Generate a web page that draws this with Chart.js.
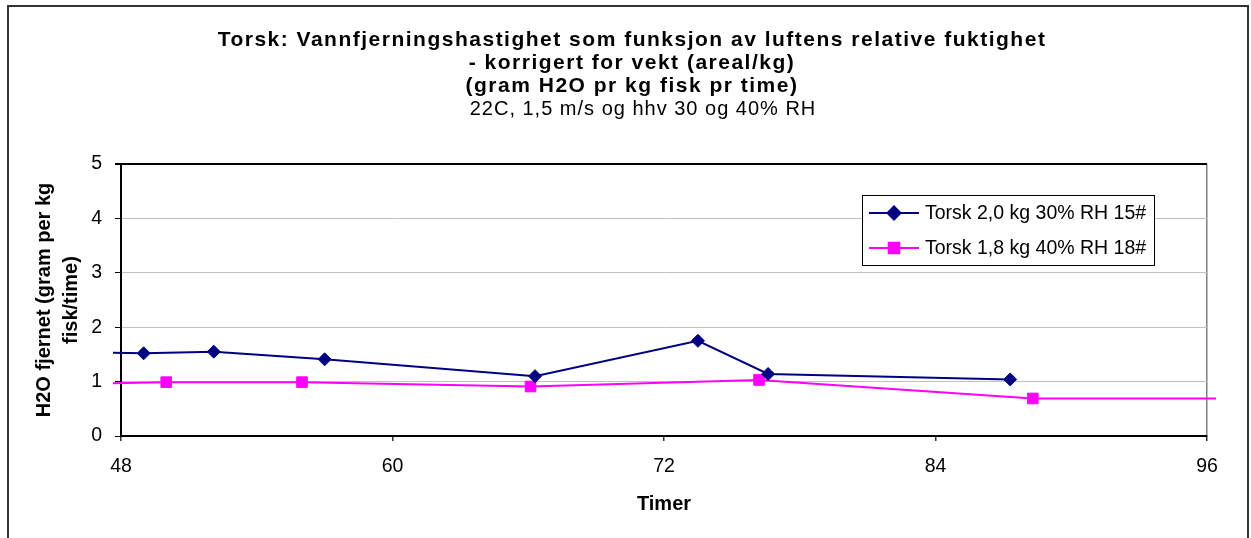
<!DOCTYPE html>
<html>
<head>
<meta charset="utf-8">
<script src="https://cdn.jsdelivr.net/npm/chart.js@4.4.0/dist/chart.umd.min.js"></script>
<style>
  html, body { margin: 0; padding: 0; background: #fff; }
  #wrap { width: 1251px; height: 538px; position: relative; }
</style>
</head>
<body>
<div id="wrap"><canvas id="lineGraph"></canvas></div>
<script>
// chart texts
const titleLines = [
  "Torsk: Vannfjerningshastighet som funksjon av luftens relative fuktighet",
  "- korrigert for vekt (areal/kg)",
  "(gram H2O pr kg fisk pr time)"
];
const subTitle = "22C, 1,5 m/s og hhv 30 og 40% RH";
const xTitle = "Timer";
const yTitle = ["H2O fjernet (gram per kg", "fisk/time)"];

// axis ticks
const xTicks = [48, 60, 72, 84, 96];
const yTicks = [0, 1, 2, 3, 4, 5];

// series (hours, gram H2O per kg per hour)
const torsk15Label = "Torsk 2,0 kg 30% RH 15#";
const torsk15Hours = [45, 49, 52.1, 57, 66.3, 73.5, 76.6, 87.3];
const torsk15Values = [1.55, 1.52, 1.55, 1.41, 1.10, 1.75, 1.14, 1.04];

const torsk18Label = "Torsk 1,8 kg 40% RH 18#";
const torsk18Hours = [45, 50, 56, 66.1, 76.2, 88.3, 100];
const torsk18Values = [0.95, 0.99, 0.99, 0.91, 1.03, 0.69, 0.69];

const fontFamily = "'Liberation Sans', Arial, sans-serif";
Chart.defaults.font.family = fontFamily;
Chart.defaults.color = "#000";

function toPoints(xs, ys) {
  return xs.map((x, i) => ({ x: x, y: ys[i] }));
}

// titles drawn with a bit of letter spacing like the original
const chartTitles = {
  id: "chartTitles",
  afterDraw(chart) {
    const ctx = chart.ctx;
    ctx.save();
    ctx.fillStyle = "#000";
    ctx.textAlign = "center";
    ctx.textBaseline = "middle";
    ctx.font = "bold 21px " + fontFamily;
    ctx.letterSpacing = "1.5px";
    titleLines.forEach((line, i) => ctx.fillText(line, 632, 40 + i * 23));
    ctx.font = "20px " + fontFamily;
    ctx.letterSpacing = "1px";
    ctx.fillText(subTitle, 643, 109);
    ctx.restore();
  }
};

// outer frame + boxed legend inside the plot
const frameAndLegend = {
  id: "frameAndLegend",
  afterDraw(chart) {
    const ctx = chart.ctx;
    ctx.save();
    ctx.strokeStyle = "#333";
    ctx.lineWidth = 2;
    ctx.strokeRect(8, 6, 1240, 600);

    // legend box
    const bx = 862, by = 195, bw = 292, bh = 70;
    ctx.fillStyle = "#fff";
    ctx.fillRect(bx, by, bw, bh);
    ctx.strokeStyle = "#000";
    ctx.lineWidth = 1;
    ctx.strokeRect(bx + 0.5, by + 0.5, bw, bh);

    ctx.font = "19.5px " + fontFamily;
    ctx.textAlign = "left";
    ctx.textBaseline = "middle";
    chart.data.datasets.forEach((ds, i) => {
      const y = 213 + i * 35;
      ctx.strokeStyle = ds.borderColor;
      ctx.lineWidth = 2;
      ctx.beginPath();
      ctx.moveTo(869, y);
      ctx.lineTo(919, y);
      ctx.stroke();
      ctx.fillStyle = ds.backgroundColor;
      Chart.helpers.drawPoint(ctx, {
        pointStyle: ds.pointStyle,
        radius: ds.pointRadius,
        borderWidth: 1,
        rotation: 0
      }, 894, y);
      ctx.fillStyle = "#000";
      ctx.fillText(ds.label, 925, y + 1);
    });
    ctx.restore();
  }
};

const ctx = document.getElementById("lineGraph").getContext("2d");
new Chart(ctx, {
  type: "line",
  data: {
    datasets: [
      {
        label: torsk15Label,
        data: toPoints(torsk15Hours, torsk15Values),
        borderColor: "#000080",
        backgroundColor: "#000080",
        borderWidth: 2,
        pointStyle: "rectRot",
        pointRadius: 6.5,
        pointBorderWidth: 1,
        tension: 0,
        clip: { left: 8, right: 9, top: 0, bottom: 0 }
      },
      {
        label: torsk18Label,
        data: toPoints(torsk18Hours, torsk18Values),
        borderColor: "#FF00FF",
        backgroundColor: "#FF00FF",
        borderWidth: 2,
        pointStyle: "rect",
        pointRadius: 7.5,
        pointBorderWidth: 1,
        tension: 0,
        clip: { left: 8, right: 9, top: 0, bottom: 0 }
      }
    ]
  },
  options: {
    responsive: true,
    maintainAspectRatio: false,
    animation: false,
    layout: { padding: { top: 164, right: 44, bottom: 0, left: 0 } },
    plugins: {
      legend: { display: false },
      title: { display: false },
      tooltip: { enabled: false }
    },
    scales: {
      x: {
        type: "linear",
        min: xTicks[0],
        max: xTicks[xTicks.length - 1],
        afterBuildTicks: (s) => { s.ticks = xTicks.map((v) => ({ value: v })); },
        afterFit: (s) => { s.height = 102; },
        ticks: { font: { size: 19.5 }, padding: 14, maxRotation: 0 },
        grid: {
          color: (c) => (c.tick && c.tick.value === 96 ? "#808080" : "rgba(0,0,0,0)"),
          tickColor: "#333",
          tickLength: 5,
          lineWidth: 1.5
        },
        border: { color: "#000", width: 2 },
        title: {
          display: true,
          text: xTitle,
          font: { size: 20, weight: "bold" },
          padding: { top: 0, bottom: 22 }
        }
      },
      y: {
        min: yTicks[0],
        max: yTicks[yTicks.length - 1],
        afterBuildTicks: (s) => { s.ticks = yTicks.map((v) => ({ value: v })); },
        afterFit: (s) => { s.width = 121; },
        ticks: { font: { size: 19.5 }, padding: 13 },
        grid: {
          color: (c) => (c.tick && c.tick.value === 5 ? "#000" : "#c0c0c0"),
          lineWidth: (c) => (c.tick && c.tick.value === 5 ? 2 : 1),
          tickColor: "#000",
          tickLength: 6
        },
        border: { color: "#000", width: 2 },
        title: {
          display: true,
          text: yTitle,
          font: { size: 20, weight: "bold", lineHeight: 1.35 },
          padding: { top: 31, bottom: 0 }
        }
      }
    }
  },
  plugins: [chartTitles, frameAndLegend]
});
</script>
</body>
</html>
